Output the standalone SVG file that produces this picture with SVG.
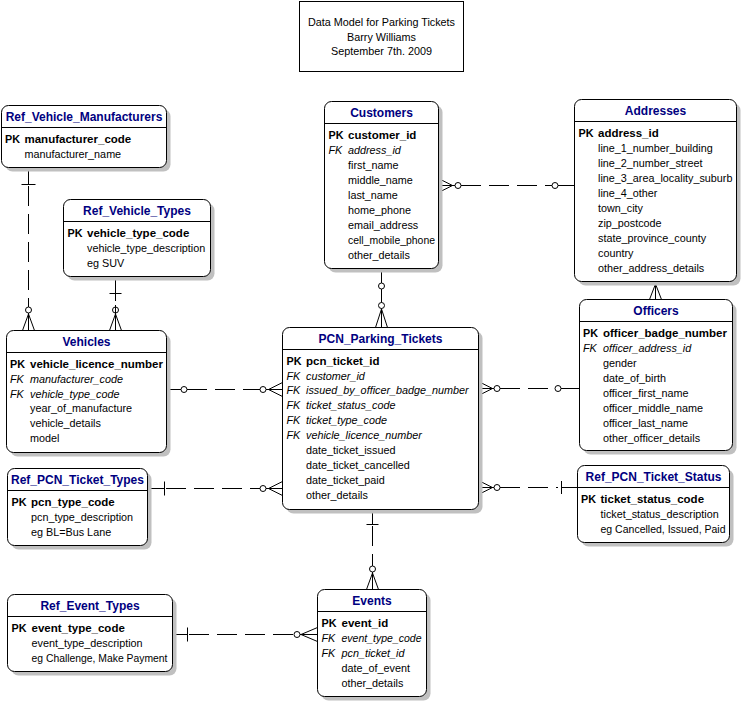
<svg xmlns="http://www.w3.org/2000/svg" width="742" height="702" viewBox="0 0 742 702">
<style>
text{font-family:"Liberation Sans",Arial,sans-serif;fill:#000}
.sh{fill:#c0c0c0;stroke:none}
.bx{fill:#fff;stroke:#000;stroke-width:1}
.sep{stroke:#000;stroke-width:1}
.ttl{font-size:12px;font-weight:bold;fill:#000080;text-anchor:middle}
.pk{font-size:11.5px;font-weight:bold}
.pkl{font-size:10.8px;font-weight:bold}
.fk{font-size:10.8px;font-style:italic}
.fkl{font-size:10.8px;font-style:italic}
.at{font-size:10.8px}
.hd{font-size:10.8px;text-anchor:middle}
.ln{stroke:#000;stroke-width:1;fill:none}
.ds{stroke:#000;stroke-width:1;fill:none;stroke-dasharray:20 8}
.ci{stroke:#000;stroke-width:1;fill:#fff}
.cn{stroke:#000;stroke-width:1;fill:none}
</style>
<rect x="299.5" y="1.5" width="164" height="70" fill="#fff" stroke="#000"/>
<text class="hd" x="381.5" y="26">Data Model for Parking Tickets</text>
<text class="hd" x="381.5" y="40.5">Barry Williams</text>
<text class="hd" x="381.5" y="55">September 7th. 2009</text>

<g id="connectors">
<!-- Manufacturers - Vehicles -->
<path class="ln" d="M28.5 167.5V184.5M21.5 184.5H35.5M28.5 313V330.5M28.5 314L22.5 330.5M28.5 314L34.5 330.5"/>
<path class="ds" d="M28.5 186V307"/>
<circle class="ci" cx="28.5" cy="310" r="3"/>
<!-- Vehicle_Types - Vehicles -->
<path class="ln" d="M115.5 276.5V301M109.5 293.5H121.5M115.5 305V330.5M115.5 314L109.5 330.5M115.5 314L121.5 330.5"/>
<circle class="cn" cx="115.5" cy="310" r="3"/>
<!-- Customers - PCN -->
<path class="ln" d="M381.5 268.5V327.5M381.5 309L375.5 327.5M381.5 309L387.5 327.5"/>
<circle class="ci" cx="381.5" cy="286" r="3"/>
<circle class="ci" cx="381.5" cy="305.5" r="3"/>
<!-- Customers - Addresses -->
<path class="ln" d="M438.5 185.5H455M438.5 178.5L452.5 185.5L438.5 192.5M558 185.5H574.5"/>
<path class="ds" d="M461 185.5H552"/>
<circle class="ci" cx="458" cy="185.5" r="3"/>
<circle class="ci" cx="555" cy="185.5" r="3"/>
<!-- Addresses - Officers -->
<path class="ln" d="M655.5 281.5V299.5M655.5 284L649.5 299.5M655.5 284L661.5 299.5"/>
<!-- Vehicles - PCN -->
<path class="ln" d="M166.5 389.5H181M266 389.5H282.5M282.5 382.5L268.5 389.5L282.5 396.5"/>
<path class="ds" d="M187 389.5H260"/>
<circle class="ci" cx="184" cy="389.5" r="3"/>
<circle class="ci" cx="263" cy="389.5" r="3"/>
<!-- Ref_PCN_Ticket_Types - PCN -->
<path class="ln" d="M147.5 488.5H164.5M164.5 481.5V495.5M266 488.5H282.5M282.5 481.5L268.5 488.5L282.5 495.5"/>
<path class="ds" d="M166 488.5H260"/>
<circle class="ci" cx="263" cy="488.5" r="3"/>
<!-- PCN - Officers -->
<path class="ln" d="M478.5 388.5H494M478.5 381.5L492.5 388.5L478.5 395.5M561 388.5H579.5"/>
<path class="ds" d="M500 388.5H555"/>
<circle class="ci" cx="497" cy="388.5" r="3"/>
<circle class="ci" cx="558" cy="388.5" r="3"/>
<!-- PCN - Ref_PCN_Ticket_Status -->
<path class="ln" d="M478.5 487.5H494M478.5 480.5L492.5 487.5L478.5 494.5M561.5 487.5H577.5M561.5 481V494"/>
<path class="ds" d="M500 487.5H558"/>
<circle class="ci" cx="497" cy="487.5" r="3"/>
<!-- PCN - Events -->
<path class="ln" d="M372.5 509.5V524.5M366.5 524.5H378.5M372.5 572V589.5M372.5 573L366.5 589.5M372.5 573L378.5 589.5"/>
<path class="ds" d="M372.5 526V566"/>
<circle class="ci" cx="372.5" cy="569" r="3"/>
<!-- Ref_Event_Types - Events -->
<path class="ln" d="M172.5 634.5H187.5M187.5 627.5V641.5M300 634.5H317.5M317.5 627.5L301 634.5L317.5 641.5"/>
<path class="ds" d="M189 634.5H294"/>
<circle class="ci" cx="297" cy="634.5" r="3"/>
</g>

<g id="Ref_Vehicle_Manufacturers" transform="translate(1.5,105.5)">
<rect class="sh" x="4" y="4" width="165" height="62" rx="7"/>
<rect class="bx" width="165" height="62" rx="7"/>
<line class="sep" x1="0" y1="22" x2="165" y2="22"/>
<text class="ttl" x="82.5" y="15.5">Ref_Vehicle_Manufacturers</text>
<text class="pkl" x="3.5" y="37">PK</text><text class="pk" x="23" y="37">manufacturer_code</text>
<text class="at" x="23" y="52">manufacturer_name</text>
</g>

<g id="Ref_Vehicle_Types" transform="translate(63.5,199.5)">
<rect class="sh" x="4" y="4" width="147" height="77" rx="7"/>
<rect class="bx" width="147" height="77" rx="7"/>
<line class="sep" x1="0" y1="22" x2="147" y2="22"/>
<text class="ttl" x="73.5" y="15.5">Ref_Vehicle_Types</text>
<text class="pkl" x="4" y="37">PK</text><text class="pk" x="23.5" y="37">vehicle_type_code</text>
<text class="at" x="23.5" y="52">vehicle_type_description</text>
<text class="at" x="23.5" y="67">eg SUV</text>
</g>

<g id="Customers" transform="translate(324.5,101.5)">
<rect class="sh" x="4" y="4" width="114" height="167" rx="7"/>
<rect class="bx" width="114" height="167" rx="7"/>
<line class="sep" x1="0" y1="22" x2="114" y2="22"/>
<text class="ttl" x="57" y="15.5">Customers</text>
<text class="pkl" x="4" y="37">PK</text><text class="pk" x="23.5" y="37">customer_id</text>
<text class="fkl" x="4" y="52">FK</text><text class="fk" x="23.5" y="52">address_id</text>
<text class="at" x="23.5" y="67">first_name</text>
<text class="at" x="23.5" y="82">middle_name</text>
<text class="at" x="23.5" y="97">last_name</text>
<text class="at" x="23.5" y="112">home_phone</text>
<text class="at" x="23.5" y="127">email_address</text>
<text class="at" x="23.5" y="142" textLength="87" lengthAdjust="spacingAndGlyphs">cell_mobile_phone</text>
<text class="at" x="23.5" y="157">other_details</text>
</g>

<g id="Addresses" transform="translate(574.5,99.5)">
<rect class="sh" x="4" y="4" width="162" height="182" rx="7"/>
<rect class="bx" width="162" height="182" rx="7"/>
<line class="sep" x1="0" y1="22" x2="162" y2="22"/>
<text class="ttl" x="81" y="15.5">Addresses</text>
<text class="pkl" x="4" y="37">PK</text><text class="pk" x="23.5" y="37">address_id</text>
<text class="at" x="23.5" y="52">line_1_number_building</text>
<text class="at" x="23.5" y="67">line_2_number_street</text>
<text class="at" x="23.5" y="82">line_3_area_locality_suburb</text>
<text class="at" x="23.5" y="97">line_4_other</text>
<text class="at" x="23.5" y="112">town_city</text>
<text class="at" x="23.5" y="127">zip_postcode</text>
<text class="at" x="23.5" y="142">state_province_county</text>
<text class="at" x="23.5" y="157">country</text>
<text class="at" x="23.5" y="172">other_address_details</text>
</g>

<g id="Vehicles" transform="translate(6.5,330.5)">
<rect class="sh" x="4" y="4" width="160" height="122" rx="7"/>
<rect class="bx" width="160" height="122" rx="7"/>
<line class="sep" x1="0" y1="22" x2="160" y2="22"/>
<text class="ttl" x="80" y="15.5">Vehicles</text>
<text class="pkl" x="3.5" y="37.5">PK</text><text class="pk" x="23.5" y="37.5">vehicle_licence_number</text>
<text class="fkl" x="3.5" y="52.5">FK</text><text class="fk" x="23.5" y="52.5">manufacturer_code</text>
<text class="fkl" x="3.5" y="67">FK</text><text class="fk" x="23.5" y="67">vehicle_type_code</text>
<text class="at" x="23.5" y="81.5">year_of_manufacture</text>
<text class="at" x="23.5" y="96.5">vehicle_details</text>
<text class="at" x="23.5" y="111">model</text>
</g>

<g id="PCN_Parking_Tickets" transform="translate(282.5,327.5)">
<rect class="sh" x="4" y="4" width="196" height="182" rx="7"/>
<rect class="bx" width="196" height="182" rx="7"/>
<line class="sep" x1="0" y1="22" x2="196" y2="22"/>
<text class="ttl" x="98" y="15.5">PCN_Parking_Tickets</text>
<text class="pkl" x="4" y="37">PK</text><text class="pk" x="23.5" y="37">pcn_ticket_id</text>
<text class="fkl" x="4" y="52">FK</text><text class="fk" x="23.5" y="52">customer_id</text>
<text class="fkl" x="4" y="66">FK</text><text class="fk" x="23.5" y="66">issued_by_officer_badge_number</text>
<text class="fkl" x="4" y="81">FK</text><text class="fk" x="23.5" y="81">ticket_status_code</text>
<text class="fkl" x="4" y="96">FK</text><text class="fk" x="23.5" y="96">ticket_type_code</text>
<text class="fkl" x="4" y="111">FK</text><text class="fk" x="23.5" y="111">vehicle_licence_number</text>
<text class="at" x="23.5" y="126">date_ticket_issued</text>
<text class="at" x="23.5" y="141">date_ticket_cancelled</text>
<text class="at" x="23.5" y="156">date_ticket_paid</text>
<text class="at" x="23.5" y="171">other_details</text>
</g>

<g id="Officers" transform="translate(579.5,299.5)">
<rect class="sh" x="4" y="4" width="153" height="151" rx="7"/>
<rect class="bx" width="153" height="151" rx="7"/>
<line class="sep" x1="0" y1="22" x2="153" y2="22"/>
<text class="ttl" x="76.5" y="15.5">Officers</text>
<text class="pkl" x="3.5" y="37">PK</text><text class="pk" x="23.5" y="37">officer_badge_number</text>
<text class="fkl" x="3.5" y="52">FK</text><text class="fk" x="23.5" y="52">officer_address_id</text>
<text class="at" x="23.5" y="67">gender</text>
<text class="at" x="23.5" y="82">date_of_birth</text>
<text class="at" x="23.5" y="97">officer_first_name</text>
<text class="at" x="23.5" y="112">officer_middle_name</text>
<text class="at" x="23.5" y="127">officer_last_name</text>
<text class="at" x="23.5" y="142">other_officer_details</text>
</g>

<g id="Ref_PCN_Ticket_Types" transform="translate(7.5,468.5)">
<rect class="sh" x="4" y="4" width="140" height="77" rx="7"/>
<rect class="bx" width="140" height="77" rx="7"/>
<line class="sep" x1="0" y1="22" x2="140" y2="22"/>
<text class="ttl" x="70" y="15.5">Ref_PCN_Ticket_Types</text>
<text class="pkl" x="4" y="37">PK</text><text class="pk" x="23.5" y="37">pcn_type_code</text>
<text class="at" x="23.5" y="52">pcn_type_description</text>
<text class="at" x="23.5" y="67">eg BL=Bus Lane</text>
</g>

<g id="Ref_PCN_Ticket_Status" transform="translate(577.5,465.5)">
<rect class="sh" x="4" y="4" width="152" height="77" rx="7"/>
<rect class="bx" width="152" height="77" rx="7"/>
<line class="sep" x1="0" y1="22" x2="152" y2="22"/>
<text class="ttl" x="76" y="15.5">Ref_PCN_Ticket_Status</text>
<text class="pkl" x="3.5" y="37">PK</text><text class="pk" x="23" y="37">ticket_status_code</text>
<text class="at" x="23" y="52">ticket_status_description</text>
<text class="at" x="23" y="67" textLength="125" lengthAdjust="spacingAndGlyphs">eg Cancelled, Issued, Paid</text>
</g>

<g id="Events" transform="translate(317.5,589.5)">
<rect class="sh" x="4" y="4" width="109" height="107" rx="7"/>
<rect class="bx" width="109" height="107" rx="7"/>
<line class="sep" x1="0" y1="22" x2="109" y2="22"/>
<text class="ttl" x="54.5" y="15.5">Events</text>
<text class="pkl" x="4" y="37">PK</text><text class="pk" x="24" y="37">event_id</text>
<text class="fkl" x="4" y="52">FK</text><text class="fk" x="24" y="52" textLength="80" lengthAdjust="spacingAndGlyphs">event_type_code</text>
<text class="fkl" x="4" y="67">FK</text><text class="fk" x="24" y="67">pcn_ticket_id</text>
<text class="at" x="24" y="82">date_of_event</text>
<text class="at" x="24" y="97">other_details</text>
</g>

<g id="Ref_Event_Types" transform="translate(7.5,594.5)">
<rect class="sh" x="4" y="4" width="165" height="77" rx="7"/>
<rect class="bx" width="165" height="77" rx="7"/>
<line class="sep" x1="0" y1="22" x2="165" y2="22"/>
<text class="ttl" x="82.5" y="15.5">Ref_Event_Types</text>
<text class="pkl" x="4" y="37">PK</text><text class="pk" x="24" y="37">event_type_code</text>
<text class="at" x="24" y="52">event_type_description</text>
<text class="at" x="24" y="67" textLength="136" lengthAdjust="spacingAndGlyphs">eg Challenge, Make Payment</text>
</g>
</svg>
